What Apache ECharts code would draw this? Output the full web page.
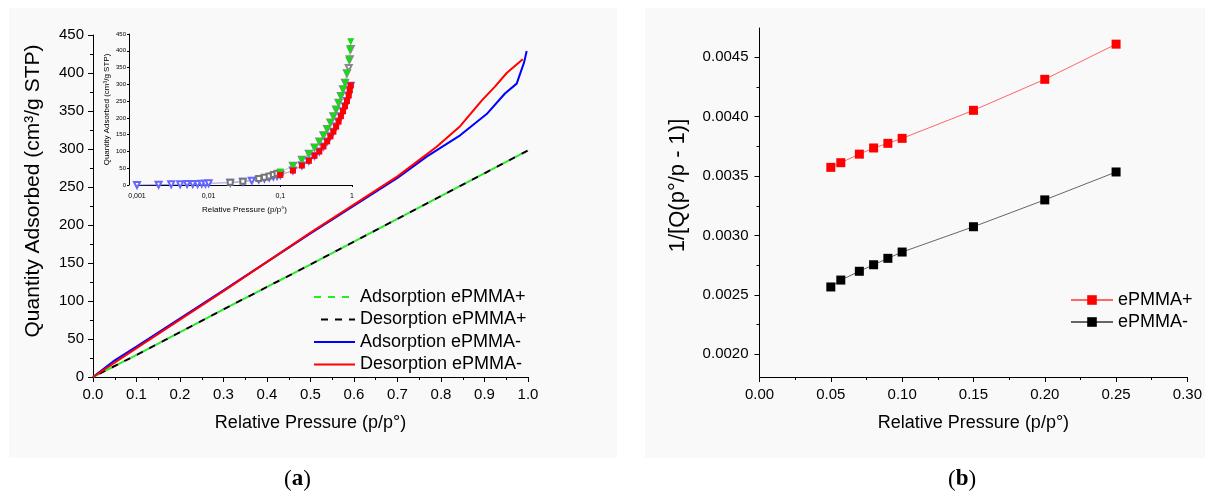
<!DOCTYPE html>
<html><head><meta charset="utf-8">
<script src="https://cdn.jsdelivr.net/npm/echarts@6/dist/echarts.min.js"></script>
<style>html,body{margin:0;padding:0;background:#fff}#c{width:1205px;height:494px}</style>
</head><body><div id="c"></div>
<script>
// ---- Panel (a) main isotherms ----
const aDashP      = [0, 0.1, 0.3, 0.5, 0.7, 0.9, 1.0];
const aAdsPlus    = [0, 29, 89, 148, 208, 268, 298];
const aDesPlus    = [0, 29, 89, 148, 208, 268, 298];
const aAdsMinusP  = [0, 0.05, 0.1, 0.3, 0.5, 0.7, 0.767, 0.844, 0.905, 0.947, 0.974, 0.991, 0.997];
const aAdsMinus   = [0, 22, 40, 114, 189, 262, 290, 318, 346, 373, 386, 414, 429];
const aDesMinusP  = [0, 0.1, 0.3, 0.5, 0.7, 0.79, 0.844, 0.894, 0.924, 0.951, 0.988];
const aDesMinus   = [0, 38, 113, 190, 264, 303, 330, 364, 382, 400, 418];

// ---- Panel (a) inset (log scale) ----
const inLowP    = [0.001,0.002,0.003,0.004,0.005,0.006,0.007,0.008,0.009,0.01,0.02,0.03,0.04,0.05,0.06,0.07,0.08,0.09,0.1];
const inBlueLow = [0,1,2,2,3,3,3,4,4,5,7,10,13,16,19,22,25,27,30];
const inHighP   = [0.15,0.2,0.25,0.3,0.35,0.4,0.45,0.5,0.55,0.6,0.65,0.7,0.75,0.8,0.85,0.9,0.93,0.96];
const inBlueHigh= [43,58,72,87,100,115,130,145,159,174,189,205,220,235,250,267,283,296];
const inGrayLowP= [0.02,0.03,0.05,0.06,0.07,0.08,0.09,0.1];
const inGrayLow = [8,11,19,23,27,31,35,38];
const inGrayHigh= [57,75,93,112,130,148,167,186,205,225,245,265,285,305,333,349,375,405];
const inGreenP  = [0.1,0.15,0.2,0.25,0.3,0.35,0.4,0.45,0.5,0.55,0.6,0.65,0.7,0.75,0.8,0.85,0.9,0.93,0.96];
const inGreen   = [38,57,75,93,112,130,148,167,186,205,225,245,265,285,305,333,372,402,427];
const inRed     = [30,43,58,72,87,100,115,130,145,159,174,189,205,220,235,250,267,283,297];

// ---- Panel (b) BET plot ----
const bP        = [0.05, 0.057, 0.07, 0.08, 0.09, 0.10, 0.15, 0.20, 0.25];
const bPlus     = [0.003574,0.003613,0.003685,0.003737,0.003776,0.003818,0.004054,0.004315,0.004611];
const bMinus    = [0.002567,0.002625,0.002699,0.002754,0.002808,0.002861,0.003074,0.003300,0.003535];

const zip = (xs, ys) => xs.map((x, i) => [x, ys[i]]);
const FONT = '"Liberation Sans", Arial, sans-serif';
const axisCommon = {
  axisLine: {show: true, lineStyle: {color: '#000', width: 1}},
  axisTick: {show: true, length: 5, lineStyle: {color: '#000'}},
  minorTick: {show: true, splitNumber: 2, length: 3, lineStyle: {color: '#000'}},
  splitLine: {show: false},
  axisLabel: {color: '#000', fontSize: 15, fontFamily: FONT},
  nameTextStyle: {color: '#000', fontFamily: FONT}
};
function ax(extra) { return echarts.util.merge(echarts.util.clone(axisCommon), extra, true); }

const chart = echarts.init(document.getElementById('c'), null, {renderer: 'canvas'});
const option = {
  animation: false,
  backgroundColor: '#fff',
  textStyle: {fontFamily: FONT},
  graphic: [
    {type: 'rect', z: -10, silent: true, shape: {x: 9, y: 8, width: 608, height: 450}, style: {fill: '#f9f9f9'}},
    {type: 'rect', z: -10, silent: true, shape: {x: 645, y: 8, width: 560, height: 450}, style: {fill: '#f9f9f9'}},
    {type: 'text', left: 284, top: 468, style: {text: '{n|(}{b|a}{n|)}', rich: {
      n: {fontSize: 23, fontFamily: '"Liberation Serif", serif', fill: '#000'},
      b: {fontSize: 23, fontWeight: 'bold', fontFamily: '"Liberation Serif", serif', fill: '#000'}}}},
    {type: 'text', left: 948, top: 468, style: {text: '{n|(}{b|b}{n|)}', rich: {
      n: {fontSize: 23, fontFamily: '"Liberation Serif", serif', fill: '#000'},
      b: {fontSize: 23, fontWeight: 'bold', fontFamily: '"Liberation Serif", serif', fill: '#000'}}}}
  ],
  grid: [
    {left: 93, width: 435, top: 35, height: 342},          // a main
    {left: 137, width: 215, top: 34, height: 151},         // a inset
    {left: 759.5, width: 431, top: 28, height: 349},       // b main
    {left: 759.5, width: 431, top: 57.3, height: 297}      // b y ticks overlay
  ],
  xAxis: [
    ax({gridIndex: 0, type: 'value', min: 0, max: 1, interval: 0.1,
        axisLabel: {margin: 10, formatter: v => v.toFixed(1)},
        name: 'Relative Pressure (p/p°)', nameLocation: 'middle', nameGap: 37,
        nameTextStyle: {fontSize: 18}}),
    ax({gridIndex: 1, type: 'log', logBase: 10, min: 0.001, max: 1,
        axisTick: {length: 2}, minorTick: {show: false},
        axisLabel: {fontSize: 7, margin: 8, formatter: v => String(Number(v.toPrecision(3))).replace('.', ',')},
        name: 'Relative Pressure (p/p°)', nameLocation: 'middle', nameGap: 21,
        nameTextStyle: {fontSize: 8}}),
    ax({gridIndex: 2, type: 'value', min: 0, max: 0.30, interval: 0.05,
        axisLabel: {margin: 10, formatter: v => v.toFixed(2)},
        name: 'Relative Pressure (p/p°)', nameLocation: 'middle', nameGap: 37,
        nameTextStyle: {fontSize: 18}}),
    {gridIndex: 3, type: 'value', min: 0, max: 0.30, show: false}
  ],
  yAxis: [
    ax({gridIndex: 0, type: 'value', min: 0, max: 450, interval: 50,
        axisLabel: {margin: 9},
        name: 'Quantity Adsorbed (cm³/g STP)', nameLocation: 'middle', nameGap: 49,
        nameTextStyle: {fontSize: 21, padding: [0, 0, 0, 30]}}),
    ax({gridIndex: 1, type: 'value', min: 0, max: 450, interval: 50, offset: 8,
        axisTick: {length: 2}, minorTick: {show: false},
        axisLabel: {fontSize: 6, margin: 3},
        name: 'Quantity Adsorbed (cm³/g STP)', nameLocation: 'middle', nameGap: 18,
        nameTextStyle: {fontSize: 8}}),
    ax({gridIndex: 2, type: 'value', min: 0.001809, max: 0.004747,
        axisTick: {show: false}, minorTick: {show: false}, axisLabel: {show: false},
        name: '1/[Q(p°/p - 1)]', nameLocation: 'middle', nameGap: 71,
        nameTextStyle: {fontSize: 22, padding: [0, 0, 0, 34]}}),
    ax({gridIndex: 3, type: 'value', min: 0.002, max: 0.0045, interval: 0.0005,
        axisLine: {show: false},
        axisLabel: {margin: 11, formatter: v => v.toFixed(4)}})
  ],
  legend: [
    {orient: 'vertical', left: 308, top: 283, itemWidth: 41, itemHeight: 14, itemGap: 4.5,
     itemStyle: {opacity: 0},
     textStyle: {fontSize: 18, color: '#000', fontFamily: FONT},
     data: ['Adsorption ePMMA+', 'Desorption ePMMA+', 'Adsorption ePMMA-', 'Desorption ePMMA-']},
    {orient: 'vertical', left: 1065, top: 286, itemWidth: 42, itemHeight: 12, itemGap: 4,
     textStyle: {fontSize: 18, color: '#000', fontFamily: FONT},
     data: ['ePMMA+', 'ePMMA-']}
  ],
  series: [
    // panel a main
    {name: 'Desorption ePMMA+', type: 'line', xAxisIndex: 0, yAxisIndex: 0, data: zip(aDashP, aDesPlus),
     symbol: 'none', color: '#000', lineStyle: {color: '#000', width: 2, type: [7, 7], dashOffset: 7}},
    {name: 'Adsorption ePMMA+', type: 'line', xAxisIndex: 0, yAxisIndex: 0, data: zip(aDashP, aAdsPlus),
     symbol: 'none', color: '#22ee22', lineStyle: {color: '#22ee22', width: 2, type: [7, 7]}},
    {name: 'Adsorption ePMMA-', type: 'line', xAxisIndex: 0, yAxisIndex: 0, data: zip(aAdsMinusP, aAdsMinus),
     symbol: 'none', color: '#0000ff', lineStyle: {color: '#0000ff', width: 2}},
    {name: 'Desorption ePMMA-', type: 'line', xAxisIndex: 0, yAxisIndex: 0, data: zip(aDesMinusP, aDesMinus),
     symbol: 'none', color: '#ff0000', lineStyle: {color: '#ff0000', width: 2}},
    // inset
    {name: 'in-blue', type: 'line', xAxisIndex: 1, yAxisIndex: 1,
     data: zip(inLowP, inBlueLow).concat(zip(inHighP, inBlueHigh)),
     symbol: 'emptyTriangle', symbolRotate: 180, symbolSize: 6,
     itemStyle: {color: '#6666ff', borderWidth: 1}, lineStyle: {color: '#9999ff', width: 1}},
    {name: 'in-gray-low', type: 'line', xAxisIndex: 1, yAxisIndex: 1,
     data: zip(inGrayLowP, inGrayLow),
     symbol: 'emptyRect', symbolSize: 5,
     itemStyle: {color: '#777', borderWidth: 1}, lineStyle: {color: '#bbb', width: 1}},
    {name: 'in-gray-high', type: 'line', xAxisIndex: 1, yAxisIndex: 1,
     data: zip(inHighP, inGrayHigh),
     symbol: 'emptyTriangle', symbolRotate: 180, symbolSize: 6,
     itemStyle: {color: '#888', borderWidth: 1}, lineStyle: {color: '#bbb', width: 1}},
    {name: 'in-green', type: 'line', xAxisIndex: 1, yAxisIndex: 1, data: zip(inGreenP, inGreen),
     symbol: 'triangle', symbolRotate: 180, symbolSize: 7,
     itemStyle: {color: '#11dd11'}, lineStyle: {color: '#99ee99', width: 1}},
    {name: 'in-red', type: 'line', xAxisIndex: 1, yAxisIndex: 1, data: zip(inGreenP, inRed),
     symbol: 'rect', symbolSize: 6,
     itemStyle: {color: '#ff0000'}, lineStyle: {color: '#ff9999', width: 1}},
    // panel b
    {name: 'ePMMA+', type: 'line', xAxisIndex: 2, yAxisIndex: 2, data: zip(bP, bPlus),
     symbol: 'rect', symbolSize: 9, color: '#ff0000',
     itemStyle: {color: '#ff0000'}, lineStyle: {color: '#ff6666', width: 1}},
    {name: 'ePMMA-', type: 'line', xAxisIndex: 2, yAxisIndex: 2, data: zip(bP, bMinus),
     symbol: 'rect', symbolSize: 9, color: '#000',
     itemStyle: {color: '#000'}, lineStyle: {color: '#666', width: 1}}
  ]
};
chart.setOption(option);
</script></body></html>
